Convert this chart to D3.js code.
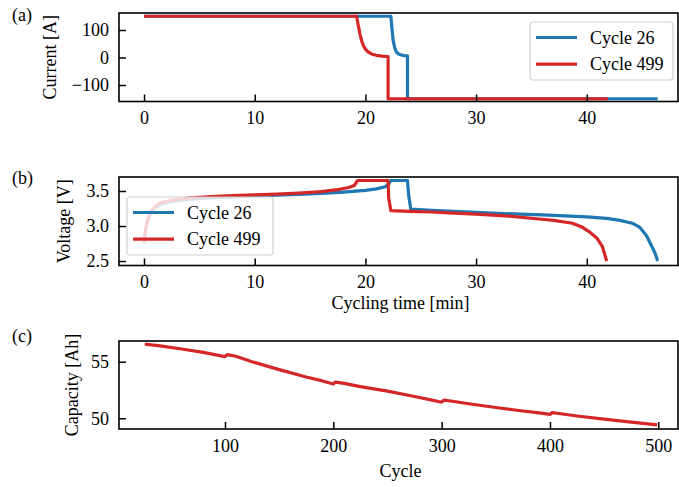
<!DOCTYPE html>
<html>
<head>
<meta charset="utf-8">
<script src="https://cdn.jsdelivr.net/npm/d3@7"></script>
<style>
  body { margin: 0; background: #fff; }
  svg text { font-family: "Liberation Serif", "Times New Roman", serif; fill: #000; }
</style>
</head>
<body>
<div id="container"></div>
<script>
// Data
const cycleNames = ["Cycle 26", "Cycle 499"];
const colors = ["#1f77b4", "#d62728"];

// (a) current vs cycling time
const currentTime26 = [0, 22.3, 22.4, 22.5, 22.65, 22.8, 23.0, 23.25, 23.5, 23.8, 23.8, 46.4];
const current26 = [150, 150, 105, 64, 35, 20, 13, 9, 7, 6, -150, -150];
const currentTime499 = [0, 19.2, 19.35, 19.5, 19.65, 19.8, 20.0, 20.25, 20.6, 21.0, 21.5, 22.05, 22.05, 41.9];
const current499 = [150, 150, 118, 87, 62, 45, 30, 20, 12, 8, 5, 3, -150, -150];

// (b) voltage vs cycling time
const voltTime26 = [0, 0.1, 0.3, 0.6, 1.0, 1.5, 2.5, 4, 6, 8, 10, 12, 14, 16, 18, 20, 21, 21.8, 22.1, 22.3, 23.8, 23.9, 24.1,
  26, 28, 30, 32, 34, 36, 38, 40, 41.8, 43, 44.1, 44.8, 45.4, 45.9, 46.2, 46.4];
const volt26 = [2.76, 2.9, 3.06, 3.18, 3.26, 3.31, 3.35, 3.38, 3.40, 3.415, 3.43, 3.44, 3.45, 3.465, 3.485, 3.51, 3.53, 3.56, 3.60, 3.65, 3.65, 3.45, 3.24,
  3.225, 3.21, 3.195, 3.18, 3.17, 3.16, 3.145, 3.13, 3.11, 3.08, 3.04, 2.98, 2.86, 2.70, 2.6, 2.50];
const voltTime499 = [0, 0.1, 0.3, 0.6, 1.0, 1.5, 2.5, 4, 6, 8, 10, 12, 14, 16, 17.5, 18.5, 19.0, 19.3, 22.05, 22.1, 22.3,
  24, 26, 28, 30, 33, 35.7, 37, 38.7, 39.5, 40.2, 40.9, 41.4, 41.8];
const volt499 = [2.76, 2.92, 3.08, 3.2, 3.28, 3.33, 3.37, 3.40, 3.42, 3.435, 3.445, 3.455, 3.47, 3.49, 3.52, 3.55, 3.58, 3.65, 3.65, 3.40, 3.22,
  3.21, 3.20, 3.185, 3.17, 3.14, 3.10, 3.08, 3.04, 2.99, 2.92, 2.83, 2.71, 2.50];

// (c) capacity vs cycle
const cycles = [26, 40, 60, 80, 100, 102, 110, 125, 150, 175, 190, 200, 202, 210, 225, 250, 275, 290, 300, 302, 310, 325,
  350, 375, 390, 400, 402, 410, 425, 450, 475, 499];
const capacity = [56.56, 56.4, 56.12, 55.82, 55.45, 55.62, 55.48, 55.0, 54.3, 53.65, 53.3, 53.03, 53.2, 53.08, 52.8, 52.4, 51.92, 51.62, 51.42, 51.6, 51.5, 51.28,
  50.95, 50.64, 50.47, 50.34, 50.5, 50.4, 50.2, 49.92, 49.66, 49.42];

const timeTicks = [0, 10, 20, 30, 40];
const currentTicks = [-100, 0, 100];
const voltTicks = [2.5, 3.0, 3.5];
const capTicks = [50, 55];
const cycleTicks = [100, 200, 300, 400, 500];

const W = 679, H = 487;
const left = 119, right = 678;
const fontSize = 18;

const svg = d3.select("#container").append("svg")
  .attr("width", W).attr("height", H);

const xTime = d3.scaleLinear().domain([-2.26, 48.24]).range([left, right]);
const xCycle = d3.scaleLinear().domain([2.15, 518.2]).range([left, right]);

const panels = [
  { tag: "(a)", tagY: 21, top: 13, bottom: 101.5, y: d3.scaleLinear().domain([-160, 161.8]),
    x: xTime, xTicks: timeTicks, yTicks: currentTicks, yFmt: d3.format("d"), ylabel: "Current [A]", ylabelX: 50,
    series: [[currentTime26, current26], [currentTime499, current499]] },
  { tag: "(b)", tagY: 184, top: 177, bottom: 265.5, y: d3.scaleLinear().domain([2.436, 3.7]),
    x: xTime, xTicks: timeTicks, yTicks: voltTicks, yFmt: d3.format(".1f"), ylabel: "Voltage [V]", ylabelX: 64,
    xlabel: "Cycling time [min]", xlabelY: 309,
    series: [[voltTime26, volt26], [voltTime499, volt499]] },
  { tag: "(c)", tagY: 342, top: 341, bottom: 429, y: d3.scaleLinear().domain([49.05, 56.83]),
    x: xCycle, xTicks: cycleTicks, yTicks: capTicks, yFmt: d3.format("d"), ylabel: "Capacity [Ah]", ylabelX: 72,
    xlabel: "Cycle", xlabelY: 477,
    series: [[cycles, capacity]], seriesColors: [colors[1]] }
];

panels.forEach((p, pi) => {
  p.y.range([p.bottom, p.top]);
  const g = svg.append("g");

  // data lines
  const clipId = `clip-${pi}`;
  svg.append("clipPath").attr("id", clipId)
    .append("rect").attr("x", left).attr("y", p.top).attr("width", right - left).attr("height", p.bottom - p.top);

  const line = d3.line().x(d => p.x(d[0])).y(d => p.y(d[1]));
  const cols = p.seriesColors || colors;
  p.series.forEach((s, i) => {
    const pts = s[0].map((t, k) => [t, s[1][k]]);
    g.append("path")
      .attr("d", line(pts))
      .attr("fill", "none")
      .attr("stroke", cols[i])
      .attr("stroke-width", 3.2)
      .attr("stroke-linejoin", "round")
      .attr("clip-path", `url(#${clipId})`);
  });

  // axes (ticks inward)
  const xAxis = g.append("g")
    .attr("transform", `translate(0,${p.bottom})`)
    .call(d3.axisBottom(p.x).tickValues(p.xTicks).tickSizeInner(-7).tickSizeOuter(0).tickPadding(10));
  const yAxis = g.append("g")
    .attr("transform", `translate(${left},0)`)
    .call(d3.axisLeft(p.y).tickValues(p.yTicks).tickFormat(p.yFmt).tickSizeInner(-7).tickSizeOuter(0).tickPadding(10));
  [xAxis, yAxis].forEach(ax => {
    ax.select(".domain").remove();
    ax.selectAll(".tick line").attr("stroke", "#000").attr("stroke-width", 1.5);
    ax.selectAll(".tick text")
      .style("font-family", '"Liberation Serif", "Times New Roman", serif')
      .style("font-size", fontSize + "px")
      .attr("fill", "#000");
  });

  // frame
  g.append("rect")
    .attr("x", left).attr("y", p.top)
    .attr("width", right - left).attr("height", p.bottom - p.top)
    .attr("fill", "none").attr("stroke", "#000").attr("stroke-width", 1.6);

  // labels
  svg.append("text").attr("x", 12).attr("y", p.tagY)
    .style("font-size", fontSize + "px").text(p.tag);
  const cy = (p.top + p.bottom) / 2;
  svg.append("text")
    .attr("transform", `translate(${p.ylabelX},${cy}) rotate(-90)`)
    .attr("text-anchor", "middle").attr("dominant-baseline", "central")
    .style("font-size", fontSize + "px").text(p.ylabel);
  if (p.xlabel) {
    svg.append("text").attr("x", (left + right) / 2 + 2).attr("y", p.xlabelY)
      .attr("text-anchor", "middle")
      .style("font-size", fontSize + "px").text(p.xlabel);
  }
});

// legends
function legend(x0, y0, w, h) {
  const lg = svg.append("g").attr("transform", `translate(${x0},${y0})`);
  lg.append("rect").attr("width", w).attr("height", h).attr("rx", 3)
    .attr("fill", "#fff").attr("fill-opacity", 0.8)
    .attr("stroke", "#d0d0d0").attr("stroke-width", 1.2);
  cycleNames.forEach((name, i) => {
    const yy = 15.5 + i * 26.6;
    lg.append("line").attr("x1", 6).attr("x2", 47).attr("y1", yy).attr("y2", yy)
      .attr("stroke", colors[i]).attr("stroke-width", 3.2);
    lg.append("text").attr("x", 60).attr("y", yy).attr("dominant-baseline", "central")
      .style("font-size", fontSize + "px").text(name);
  });
}
legend(530, 22, 143, 58);
legend(127, 197, 146, 58);
</script>
</body>
</html>
